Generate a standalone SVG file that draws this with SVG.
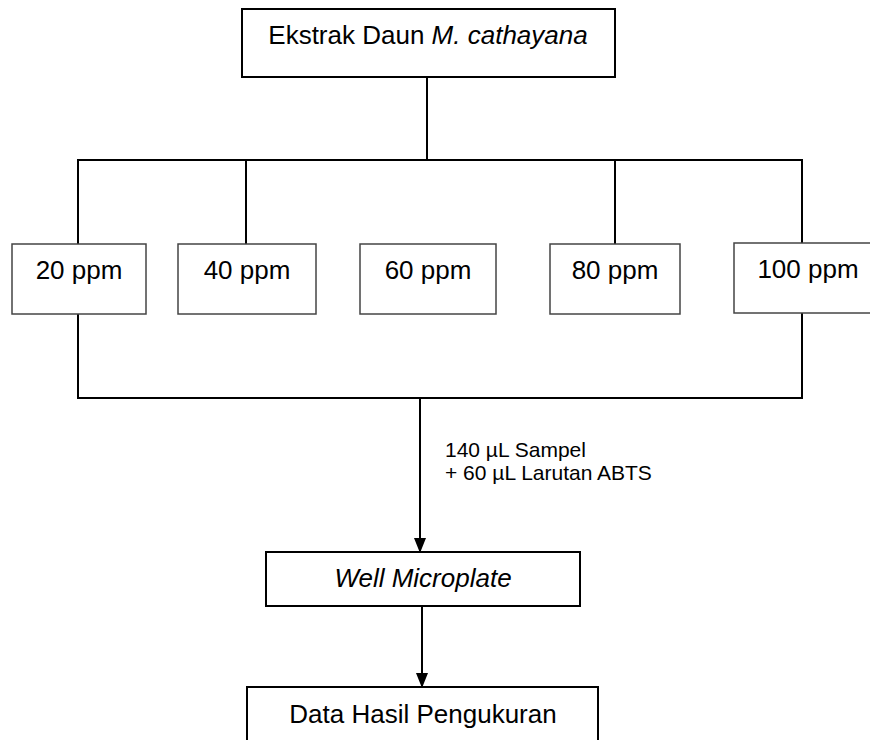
<svg xmlns="http://www.w3.org/2000/svg" width="870" height="740" viewBox="0 0 870 740">
<defs>
<style>
.box{fill:#fff;stroke:#000;stroke-width:2}
.pbox{fill:#fff;stroke:#444;stroke-width:1.5}
.t{font-family:"Liberation Sans",Arial,sans-serif;font-size:26px;fill:#000;text-anchor:middle}
.lbl{font-family:"Liberation Sans",Arial,sans-serif;font-size:21px;fill:#000}
.ln{fill:none;stroke:#000;stroke-width:2}
</style>
<marker id="arr" markerWidth="15" markerHeight="12" refX="14" refY="6" orient="auto" markerUnits="userSpaceOnUse" viewBox="0 0 15 12">
<path d="M0,0 L15,6 L0,12 Z" fill="#000"/>
</marker>
</defs>
<rect width="870" height="740" fill="#fff"/>
<g id="connectors">
<path class="ln" d="M427,77 V160"/>
<path class="ln" d="M78,244 V160 H802 V243"/>
<path class="ln" d="M246,160 V244"/>
<path class="ln" d="M615,160 V244"/>
<path class="ln" d="M78,314 V398 H802 V313"/>
<path class="ln" d="M420,398 V552" marker-end="url(#arr)"/>
<path class="ln" d="M422,606 V687" marker-end="url(#arr)"/>
<g id="label">
<text class="lbl" x="445" y="457">140 µL Sampel</text>
<text class="lbl" x="445" y="480">+ 60 µL Larutan ABTS</text>
</g>
</g>
<g id="ekstrak">
<rect class="box" x="242" y="9" width="373" height="68"/>
<text class="t" x="428" y="44">Ekstrak Daun <tspan font-style="italic">M. cathayana</tspan></text>
</g>
<g id="p20">
<rect class="pbox" x="12" y="244" width="134" height="70"/>
<text class="t" x="79" y="279">20 ppm</text>
</g>
<g id="p40">
<rect class="pbox" x="178" y="244" width="138" height="70"/>
<text class="t" x="247" y="279">40 ppm</text>
</g>
<g id="p60">
<rect class="pbox" x="360" y="244" width="136" height="70"/>
<text class="t" x="428" y="279">60 ppm</text>
</g>
<g id="p80">
<rect class="pbox" x="550" y="244" width="130" height="70"/>
<text class="t" x="615" y="279">80 ppm</text>
</g>
<g id="p100">
<rect class="pbox" x="734" y="243" width="148" height="70"/>
<text class="t" x="808" y="278">100 ppm</text>
</g>
<g id="well">
<rect class="box" x="266" y="552" width="314" height="54"/>
<text class="t" x="423" y="587" font-style="italic">Well Microplate</text>
</g>
<g id="data">
<rect class="box" x="247" y="687" width="351" height="70"/>
<text class="t" x="423" y="723">Data Hasil Pengukuran</text>
</g>
</svg>
